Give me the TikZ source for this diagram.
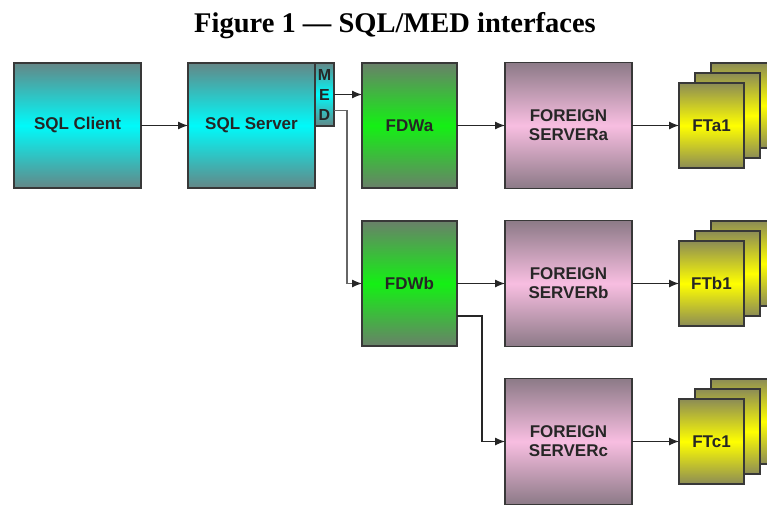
\documentclass[tikz,border=0pt]{standalone}
\usepackage{fontspec}
\setmainfont{Liberation Serif}
\setsansfont{Liberation Sans}
\usetikzlibrary{arrows.meta,positioning}

\definecolor{cltop}{RGB}{100,135,135}
\definecolor{clmid}{RGB}{0,250,250}
\definecolor{fdwtop}{RGB}{105,128,105}
\definecolor{fdwmid}{RGB}{20,240,20}
\definecolor{fstop}{RGB}{140,122,135}
\definecolor{fsmid}{RGB}{248,190,225}
\definecolor{fttop}{RGB}{140,140,85}
\definecolor{ftmid}{RGB}{255,255,0}

\tikzset{
  box/.style={rectangle, draw=black!78, line width=1.3pt, inner sep=0pt, outer sep=0pt,
    align=center, text=black!85, font=\sffamily\bfseries\fontsize{17}{19}\selectfont},
  sqlbox/.style={box, minimum width=127pt, minimum height=125pt,
    top color=cltop, bottom color=cltop, middle color=clmid},
  medbox/.style={box, minimum width=19pt, minimum height=63pt,
    font=\sffamily\bfseries\fontsize{16}{20}\selectfont,
    top color=cltop, bottom color=cltop, middle color=clmid},
  fdwbox/.style={box, minimum width=95pt, minimum height=125pt,
    top color=fdwtop, bottom color=fdwtop, middle color=fdwmid},
  fsbox/.style={box, minimum width=127pt, minimum height=126pt,
    top color=fstop, bottom color=fstop, middle color=fsmid},
  ftbox/.style={box, minimum width=65pt, minimum height=85pt,
    top color=fttop, bottom color=fttop, middle color=ftmid},
  conn/.style={->, line width=1.2pt, black!85}
}

\begin{document}
\begin{tikzpicture}[x=1pt, y=-1pt, >={Latex[length=10pt,width=8pt]}]
\useasboundingbox (0,0) rectangle (767,506);

\node (title) [anchor=base, font=\bfseries\fontsize{28.5}{30}\selectfont] at (395,32) {Figure 1 --- SQL/MED interfaces};

% client and server
\node (client) [sqlbox] at (77.5,125.5) {SQL Client};
\node (server) [sqlbox, right=47pt of client] {SQL Server};
\node (med) [medbox, anchor=north west] at (server.north east) {M\\E\\D};

% wrappers
\node (fdwa) [fdwbox, right=47pt of server] {FDWa};
\node (fdwb) [fdwbox, below=33pt of fdwa] {FDWb};

% foreign servers
\node (fsa) [fsbox, right=48pt of fdwa] {FOREIGN\\SERVERa};
\node (fsb) [fsbox, right=48pt of fdwb] {FOREIGN\\SERVERb};
\node (fsc) [fsbox, below=32pt of fsb] {FOREIGN\\SERVERc};

% foreign tables (stacks)
\coordinate (ca) at ([xshift=47pt+32.5pt]fsa.east);
\coordinate (cb) at ([xshift=47pt+32.5pt]fsb.east);
\coordinate (cc) at ([xshift=47pt+32.5pt]fsc.east);
\foreach \t in {a,b,c} {
  \node (ft\t3) [ftbox] at ([xshift=32pt,yshift=20pt]c\t) {};
  \node (ft\t2) [ftbox] at ([xshift=16pt,yshift=10pt]c\t) {};
}
\node (fta) [ftbox] at (ca) {FTa1};
\node (ftb) [ftbox] at (cb) {FTb1};
\node (ftc) [ftbox] at (cc) {FTc1};

% connectors
\draw[conn] (client) -- (server);
\draw[conn] (med.east) -- (fdwa.west |- med.east);
\draw[conn, black!60, -{Latex[length=10pt,width=8pt,black!85]}] ([yshift=-16pt]med.east) -- ++(13pt,0) |- (fdwb.west);
\draw[conn] (fdwa) -- (fsa);
\draw[conn] (fdwb) -- (fsb);
\draw[conn] ([yshift=-32.5pt]fdwb.east) -- ++(25pt,0) |- (fsc.west);
\draw[conn] (fsa) -- (fta);
\draw[conn] (fsb) -- (ftb);
\draw[conn] (fsc) -- (ftc);
\end{tikzpicture}
\end{document}
